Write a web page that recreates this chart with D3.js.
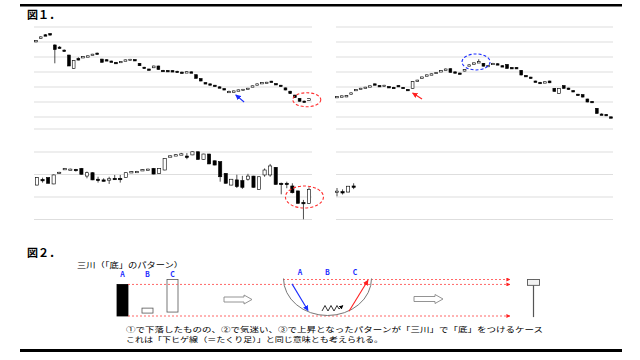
<!DOCTYPE html>
<html>
<head>
<meta charset="utf-8">
<script src="https://cdn.jsdelivr.net/npm/d3@7"></script>
<style>
  body { margin: 0; background: #fff; }
  svg { display: block; }
  text { font-family: "Noto Sans CJK JP", sans-serif; }
</style>
</head>
<body>
<svg></svg>
<script>
// candles are [open, high, low, close]
const chart1 = [
  [90.2, 91.2, 89.8, 91.0], [92.3, 93.8, 92.3, 93.4], [94.8, 95.3, 94.5, 94.6], [95.6, 95.8, 94.4, 94.6],
  [88.0, 88.5, 75.8, 85.0], [86.6, 87.2, 85.6, 85.9], [84.6, 85.0, 83.7, 83.9], [81.3, 81.5, 74.0, 74.0],
  [72.4, 77.8, 72.2, 77.6], [78.9, 79.8, 77.8, 78.0], [79.5, 80.6, 79.3, 80.3], [80.5, 81.0, 80.3, 80.8],
  [81.6, 82.1, 81.4, 81.9], [82.6, 82.9, 81.9, 82.1], [78.6, 78.8, 76.2, 76.5], [78.2, 78.5, 77.4, 77.6],
  [77.3, 77.6, 76.8, 77.0], [76.4, 76.7, 75.8, 76.1], [76.8, 77.3, 76.6, 77.1], [77.8, 78.3, 77.6, 78.1],
  [78.3, 78.7, 78.1, 78.5], [78.3, 78.5, 77.6, 77.8], [75.8, 76.0, 74.0, 74.2], [73.2, 73.4, 72.4, 72.6],
  [72.0, 72.2, 71.2, 71.5], [72.8, 74.2, 72.7, 74.0], [74.0, 74.2, 71.5, 71.7], [71.1, 71.4, 70.6, 70.9],
  [71.0, 71.3, 70.7, 71.0], [70.9, 71.2, 70.6, 70.8], [70.5, 70.8, 70.1, 70.3], [69.9, 70.3, 69.5, 69.7],
  [70.0, 70.4, 69.8, 70.2], [70.1, 70.4, 69.7, 69.9], [68.2, 68.4, 65.6, 65.8], [65.6, 65.8, 63.8, 64.0],
  [62.9, 63.1, 62.0, 62.2], [62.1, 62.3, 61.5, 61.7], [61.2, 61.4, 60.6, 60.8], [60.1, 60.4, 59.5, 59.7],
  [58.9, 59.1, 58.0, 58.2], [56.7, 57.6, 56.3, 57.1], [57.2, 57.6, 57.0, 57.4], [57.8, 58.3, 57.6, 58.1],
  [58.3, 58.6, 58.1, 58.5], [59.0, 59.4, 58.8, 59.2], [60.5, 60.9, 60.3, 60.8], [61.9, 62.3, 61.7, 62.1],
  [62.8, 63.2, 62.6, 63.0], [63.0, 63.4, 62.8, 63.2], [63.9, 64.1, 63.2, 63.4], [62.3, 62.5, 61.5, 61.7],
  [61.2, 61.4, 60.4, 60.6], [59.4, 59.6, 57.8, 58.0], [57.2, 57.4, 55.4, 55.6], [54.6, 54.8, 52.8, 53.0],
  [52.4, 52.6, 50.3, 50.5], [50.6, 50.9, 50.0, 50.2], [51.0, 52.4, 50.8, 52.2]
];

const chart2 = [
  [53.4, 53.9, 53.2, 53.7], [53.9, 54.3, 53.3, 54.1], [54.1, 54.5, 53.3, 54.3], [55.3, 56.3, 55.1, 56.1],
  [57.6, 58.6, 57.4, 58.4], [59.0, 59.4, 58.6, 59.2], [59.7, 60.1, 59.5, 59.9], [60.6, 61.0, 60.4, 60.8],
  [62.1, 62.3, 61.3, 61.5], [61.0, 61.2, 60.2, 60.4], [60.5, 61.4, 60.3, 61.2], [60.3, 60.6, 59.8, 60.2],
  [59.8, 60.1, 59.3, 59.7], [61.0, 61.2, 60.2, 60.4], [59.8, 60.0, 58.9, 59.1], [58.4, 58.6, 57.8, 58.0],
  [59.1, 63.8, 59.0, 63.6], [63.8, 64.8, 63.7, 64.6], [66.0, 66.9, 65.9, 66.7], [67.8, 68.3, 67.6, 68.1],
  [68.5, 69.0, 68.3, 68.8], [69.2, 70.0, 69.0, 69.8], [70.3, 71.1, 70.1, 70.9], [71.8, 72.3, 71.6, 72.0],
  [72.2, 72.4, 69.6, 69.8], [70.1, 70.3, 69.2, 69.4], [69.3, 69.6, 68.9, 69.1], [70.6, 71.8, 70.4, 71.6],
  [74.4, 75.0, 74.2, 74.8], [75.3, 76.3, 75.1, 76.1], [76.8, 78.5, 76.6, 76.9], [75.8, 76.0, 73.7, 73.9],
  [73.6, 74.6, 73.4, 74.4], [75.6, 76.1, 75.4, 75.8], [75.5, 75.8, 74.9, 75.3], [74.2, 74.5, 73.6, 74.0],
  [75.0, 75.2, 72.2, 72.4], [73.0, 73.2, 72.2, 72.4], [73.0, 73.2, 72.2, 72.4], [71.1, 71.3, 67.8, 68.0],
  [67.7, 67.9, 66.7, 66.9], [66.6, 66.8, 65.6, 65.8], [64.0, 64.2, 63.2, 63.4], [63.1, 63.4, 62.5, 62.9],
  [62.8, 63.7, 62.6, 63.5], [64.0, 64.2, 62.6, 62.8], [59.1, 59.3, 56.9, 57.1], [55.8, 59.3, 55.6, 59.1],
  [60.9, 61.1, 58.9, 59.1], [59.3, 59.5, 58.1, 58.3], [57.6, 57.9, 56.9, 57.3], [55.2, 55.4, 54.3, 54.5],
  [54.9, 55.1, 53.1, 53.3], [52.0, 52.2, 49.8, 50.0], [50.4, 50.6, 49.6, 49.8], [45.8, 46.0, 42.2, 42.4],
  [42.0, 42.4, 41.4, 41.8], [41.7, 42.0, 41.0, 41.4], [40.1, 40.3, 39.5, 39.7]
];

const chart3 = [
  [15.3, 18.8, 15.2, 18.6], [17.8, 18.6, 16.4, 17.7], [18.6, 18.8, 16.0, 16.1], [15.8, 20.0, 15.7, 19.8],
  [20.5, 21.2, 20.3, 21.0], [22.5, 22.9, 22.3, 22.7], [22.3, 22.6, 22.1, 22.4], [22.3, 22.5, 21.3, 22.2],
  [22.7, 22.9, 20.0, 20.1], [19.3, 21.3, 18.3, 20.8], [20.8, 21.0, 17.5, 17.6], [17.9, 19.0, 16.4, 17.8],
  [17.6, 18.3, 16.9, 17.5], [17.5, 19.0, 15.8, 18.1], [18.3, 19.8, 17.6, 18.2], [18.3, 19.8, 16.4, 18.2],
  [18.6, 20.9, 18.5, 20.8], [21.2, 21.5, 21.0, 21.3], [21.3, 21.6, 21.1, 21.4], [21.8, 22.4, 21.7, 22.2],
  [22.3, 22.6, 22.1, 22.4], [22.7, 22.9, 20.1, 20.2], [20.4, 22.8, 20.3, 22.7], [22.0, 27.3, 21.9, 27.2],
  [27.9, 28.5, 27.8, 28.3], [28.4, 29.0, 28.3, 28.8], [29.1, 29.6, 28.8, 29.2], [28.2, 29.5, 26.8, 28.1],
  [28.7, 30.2, 28.6, 30.1], [30.1, 30.2, 26.6, 26.7], [26.7, 29.2, 26.6, 29.1], [29.1, 29.2, 24.6, 24.7],
  [26.1, 26.2, 24.1, 24.2], [25.7, 25.8, 16.8, 19.0], [20.5, 20.6, 16.0, 16.1], [15.3, 18.0, 15.2, 17.9],
  [17.6, 19.9, 14.0, 14.6], [17.3, 19.4, 13.6, 14.3], [17.9, 20.3, 17.3, 19.3], [19.3, 19.4, 14.2, 14.3],
  [13.4, 19.1, 13.3, 19.0], [19.8, 22.7, 19.0, 22.0], [19.8, 24.7, 19.0, 23.8], [23.2, 23.3, 15.5, 15.6],
  [16.1, 16.4, 11.2, 16.0], [16.1, 16.8, 13.9, 16.0], [14.9, 16.1, 11.6, 11.9], [12.7, 12.8, 7.1, 7.2],
  [7.6, 8.7, 0.1, 7.5], [7.2, 14.3, 6.9, 13.4]
];

const chart4 = [
  [12.2, 14.0, 10.3, 12.6], [12.4, 13.4, 11.1, 12.3], [12.2, 14.9, 12.1, 14.8], [14.9, 16.1, 13.5, 14.8]
];

const gridTop = [100, 90, 80, 70, 60, 50, 40, 32];
const gridBottom = [30, 20, 10, 0];

// 三川 pattern: A, B, C  and the resulting candle
const patternLabels = ["A", "B", "C"];
const pattern = [[86.5, 86.5, 0, 0], [8, 21.6, 8, 21.6], [10.8, 100, 10.8, 100]];
const resultCandle = [84, 100, -3, 100];

const title1 = "図１．";
const title2 = "図２．";
const patternTitle = "三川（「底」のパターン）";
const note1 = "①で下落したものの、②で気迷い、③で上昇となったパターンが「三川」で「底」をつけるケース";
const note2 = "これは「下ヒゲ線（＝たくり足）」と同じ意味とも考えられる。";

const svg = d3.select("svg").attr("width", 640).attr("height", 360);

const defs = svg.append("defs");
function marker(id, color) {
  defs.append("marker").attr("id", id)
    .attr("viewBox", "0 0 10 10").attr("refX", 9).attr("refY", 5)
    .attr("markerWidth", 5).attr("markerHeight", 5).attr("orient", "auto")
    .append("path").attr("d", "M0,0L10,5L0,10Z").attr("fill", color);
}
marker("mBlue", "#1a2cff");
marker("mRed", "#ff2020");
marker("mBlack", "#000");

// frame
svg.append("rect").attr("x", 20).attr("y", 4).attr("width", 602).attr("height", 2.5).attr("fill", "#000");
svg.append("rect").attr("x", 20).attr("y", 349).attr("width", 602).attr("height", 3).attr("fill", "#000");

svg.append("text").attr("x", 27).attr("y", 19).attr("font-size", 11).attr("font-weight", "bold").text(title1);

// scales
const yTop = d3.scaleLinear().domain([32, 100]).range([129, 27]);
const yBot = d3.scaleLinear().domain([0, 30]).range([219.5, 152]);

const x1 = d3.scalePoint().domain(d3.range(chart1.length)).range([36, 309]);
const x2 = d3.scalePoint().domain(d3.range(chart2.length)).range([337, 611]);
const x3 = d3.scalePoint().domain(d3.range(chart3.length)).range([37, 309]);
const x4 = d3.scalePoint().domain(d3.range(chart3.length)).range([337, 609]);

function grid(ticks, y, xa, xb) {
  svg.append("g").selectAll("line").data(ticks).enter().append("line")
    .attr("x1", xa).attr("x2", xb)
    .attr("y1", d => y(d)).attr("y2", d => y(d))
    .attr("stroke", "#dedede").attr("stroke-width", 1.2);
}
grid(gridTop, yTop, 34, 312);
grid(gridTop, yTop, 336, 613);
grid(gridBottom, yBot, 34, 312);
grid(gridBottom, yBot, 336, 613);

function drawCandles(data, x, y, bw, cls) {
  const c = svg.append("g").attr("class", cls)
    .selectAll("g.candle").data(data).enter().append("g").attr("class", "candle")
    .attr("transform", (d, i) => `translate(${x(i)},0)`);
  c.append("line")
    .attr("y1", d => y(d[1])).attr("y2", d => y(d[2]))
    .attr("stroke", "#000").attr("stroke-width", 0.7);
  c.append("rect")
    .attr("x", -bw / 2).attr("width", bw)
    .attr("y", d => y(Math.max(d[0], d[3])))
    .attr("height", d => Math.max(1.4, Math.abs(y(d[0]) - y(d[3]))))
    .attr("fill", d => d[3] > d[0] ? "#fff" : "#000")
    .attr("stroke", "#000").attr("stroke-width", 0.6);
}
drawCandles(chart1, x1, yTop, 2.8, "c1");
drawCandles(chart2, x2, yTop, 2.8, "c2");
drawCandles(chart3, x3, yBot, 3.2, "c3");
drawCandles(chart4, x4, yBot, 3.2, "c4");

// annotations on fig 1
function ellipse(cx, cy, rx, ry, color) {
  svg.append("ellipse").attr("cx", cx).attr("cy", cy).attr("rx", rx).attr("ry", ry)
    .attr("fill", "none").attr("stroke", color).attr("stroke-width", 1.1).attr("stroke-dasharray", "3,2");
}
function arrow(xa, ya, xb, yb, color, m) {
  svg.append("line").attr("x1", xa).attr("y1", ya).attr("x2", xb).attr("y2", yb)
    .attr("stroke", color).attr("stroke-width", 1.1).attr("marker-end", `url(#${m})`);
}
ellipse(x1(57) + 2.5, yTop(51.5), 14, 7, "#ff3030");
arrow(x1(44) + 1, yTop(50), x1(42) + 2, yTop(54.7), "#1a2cff", "mBlue");
ellipse(x2(29) + 2, yTop(76.7), 14, 8, "#1a2cff");
arrow(x2(18), yTop(52), x2(16), yTop(56), "#ff2020", "mRed");
ellipse(x3(48) + 1, yBot(10), 19, 11, "#ff3030");

// fig 2
svg.append("text").attr("x", 27).attr("y", 257).attr("font-size", 11).attr("font-weight", "bold").text(title2);
svg.append("text").attr("x", 77).attr("y", 268).attr("font-size", 7.5)
  .attr("textLength", 106).attr("lengthAdjust", "spacingAndGlyphs").text(patternTitle);

const yP = d3.scaleLinear().domain([0, 100]).range([316, 279.5]);
const xP = d3.scalePoint().domain(patternLabels).range([122.5, 172.5]);

svg.append("g").selectAll("text").data(patternLabels).enter().append("text")
  .attr("x", d => xP(d)).attr("y", 277).attr("text-anchor", "middle")
  .attr("font-size", 7).attr("font-weight", "bold").attr("fill", "#1a2cff").text(d => d);

svg.append("g").selectAll("rect").data(pattern).enter().append("rect")
  .attr("x", (d, i) => xP(patternLabels[i]) - 5.5).attr("width", 11)
  .attr("y", d => yP(Math.max(d[0], d[3])))
  .attr("height", d => Math.abs(yP(d[0]) - yP(d[3])))
  .attr("fill", d => d[3] > d[0] ? "#fff" : "#000")
  .attr("stroke", d => d[3] > d[0] ? "#555" : "#000").attr("stroke-width", 0.8);

// red dashed guide lines
function dashed(xa, xb, y) {
  svg.append("line").attr("x1", xa).attr("x2", xb).attr("y1", y).attr("y2", y)
    .attr("stroke", "#ff4040").attr("stroke-width", 0.8).attr("stroke-dasharray", "2,2")
    .attr("marker-end", "url(#mRed)");
}
dashed(xP("A") + 5.5, 510, yP(86.5));
dashed(283, 510, yP(100));
dashed(xP("A") + 5.5, 510, yP(0));

// hollow arrows
function hollowArrow(xa, xb, yc) {
  const h = 2.5, hh = 4.5, hl = 8;
  svg.append("path")
    .attr("d", `M${xa},${yc - h}L${xb - hl},${yc - h}L${xb - hl},${yc - hh}L${xb},${yc}L${xb - hl},${yc + hh}L${xb - hl},${yc + h}L${xa},${yc + h}Z`)
    .attr("fill", "#fff").attr("stroke", "#888").attr("stroke-width", 0.9);
}
hollowArrow(224, 252, 299.5);
hollowArrow(414, 443, 299);

// the bowl
const bowlX = d3.scalePoint().domain(patternLabels).range([300, 355]);
svg.append("path").attr("d", `M283.5,${yP(100) - 1}A44,37 0 0 0 371.5,${yP(100) - 1}`)
  .attr("fill", "none").attr("stroke", "#777").attr("stroke-width", 1);
svg.append("g").selectAll("text").data(patternLabels).enter().append("text")
  .attr("x", d => bowlX(d)).attr("y", 275).attr("text-anchor", "middle")
  .attr("font-size", 7).attr("font-weight", "bold").attr("fill", "#1a2cff").text(d => d);
arrow(292, yP(88), 308, yP(15), "#1a2cff", "mBlue");
svg.append("path").attr("d", "M322,311L325,305.5L328,311L331,305.5L334,311L337,305.5L339,309L343,305.5")
  .attr("fill", "none").attr("stroke", "#000").attr("stroke-width", 0.8).attr("marker-end", "url(#mBlack)");
arrow(349, yP(13), 368, yP(98), "#ff2020", "mRed");

// resulting candle
svg.append("line").attr("x1", 533.5).attr("x2", 533.5)
  .attr("y1", yP(resultCandle[1])).attr("y2", yP(resultCandle[2]))
  .attr("stroke", "#555").attr("stroke-width", 1.2);
svg.append("rect").attr("x", 527.5).attr("width", 12)
  .attr("y", yP(resultCandle[3])).attr("height", yP(resultCandle[0]) - yP(resultCandle[3]))
  .attr("fill", "#f2f2f2").attr("stroke", "#555").attr("stroke-width", 0.9);

svg.append("text").attr("x", 126).attr("y", 331.5).attr("font-size", 7.2)
  .attr("textLength", 417).attr("lengthAdjust", "spacingAndGlyphs").text(note1);
svg.append("text").attr("x", 126).attr("y", 342).attr("font-size", 7.2)
  .attr("textLength", 257).attr("lengthAdjust", "spacingAndGlyphs").text(note2);
</script>
</body>
</html>
